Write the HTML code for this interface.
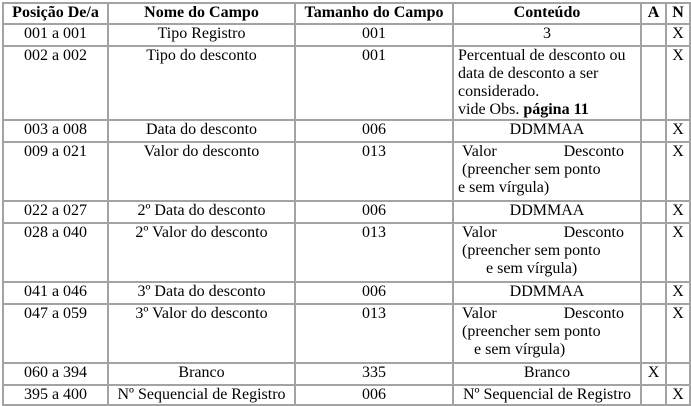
<!DOCTYPE html>
<html><head><meta charset="utf-8">
<style>
body{margin:0;background:#fff;width:691px;height:405px;overflow:hidden;font-family:"Liberation Serif",serif;font-size:16px;color:#000}
table{position:absolute;left:2px;top:2px;border-collapse:collapse;table-layout:fixed;width:687px}
td,th{border:2px solid #a3a3a3;padding:0 4px;vertical-align:top;text-align:center;line-height:18px;overflow:hidden;white-space:nowrap}
th{font-weight:bold}
td.l{text-align:left}
.j{display:flex;justify-content:space-between;padding-right:12px}
</style></head><body>
<table>
<colgroup><col style="width:105px"><col style="width:187px"><col style="width:158px"><col style="width:188px"><col style="width:25px"><col style="width:24px"></colgroup>
<tr style="height:21px"><th>Posição De/a</th><th>Nome do Campo</th><th>Tamanho do Campo</th><th>Conteúdo</th><th>A</th><th>N</th></tr>
<tr style="height:22px"><td>001 a 001</td><td>Tipo Registro</td><td>001</td><td>3</td><td></td><td>X</td></tr>
<tr style="height:74px"><td>002 a 002</td><td>Tipo do desconto</td><td>001</td><td class="l">Percentual de desconto ou<br>data de desconto a ser<br>considerado.<br>vide Obs. <b>página 11</b></td><td></td><td>X</td></tr>
<tr style="height:22px"><td>003 a 008</td><td>Data do desconto</td><td>006</td><td>DDMMAA</td><td></td><td>X</td></tr>
<tr style="height:59px"><td>009 a 021</td><td>Valor do desconto</td><td>013</td><td class="l"><div class="j"><span>&nbsp;Valor</span><span>Desconto</span></div>&nbsp;(preencher sem ponto<br>e sem vírgula)</td><td></td><td>X</td></tr>
<tr style="height:22px"><td>022 a 027</td><td>2º Data do desconto</td><td>006</td><td>DDMMAA</td><td></td><td>X</td></tr>
<tr style="height:59px"><td>028 a 040</td><td>2º Valor do desconto</td><td>013</td><td class="l"><div class="j"><span>&nbsp;Valor</span><span>Desconto</span></div>&nbsp;(preencher sem ponto<br>&nbsp;&nbsp;&nbsp;&nbsp;&nbsp;&nbsp;&nbsp;e sem vírgula)</td><td></td><td>X</td></tr>
<tr style="height:22px"><td>041 a 046</td><td>3º Data do desconto</td><td>006</td><td>DDMMAA</td><td></td><td>X</td></tr>
<tr style="height:59px"><td>047 a 059</td><td>3º Valor do desconto</td><td>013</td><td class="l"><div class="j"><span>&nbsp;Valor</span><span>Desconto</span></div>&nbsp;(preencher sem ponto<br>&nbsp;&nbsp;&nbsp;&nbsp;e sem vírgula)</td><td></td><td>X</td></tr>
<tr style="height:22px"><td>060 a 394</td><td>Branco</td><td>335</td><td>Branco</td><td>X</td><td></td></tr>
<tr style="height:20px"><td>395 a 400</td><td>Nº Sequencial de Registro</td><td>006</td><td>Nº Sequencial de Registro</td><td></td><td>X</td></tr>
</table>
</body></html>
